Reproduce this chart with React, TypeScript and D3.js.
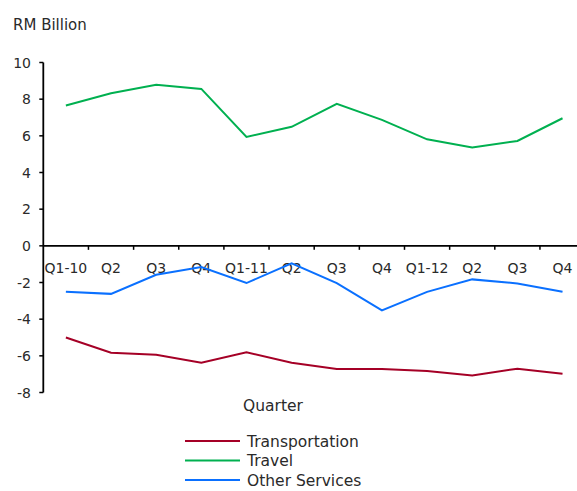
import React from "react";
import * as d3 from "d3";

const quarters = ["Q1-10", "Q2", "Q3", "Q4", "Q1-11", "Q2", "Q3", "Q4", "Q1-12", "Q2", "Q3", "Q4"];
const transportation = [-5.0, -5.83, -5.94, -6.38, -5.81, -6.38, -6.72, -6.72, -6.83, -7.07, -6.7, -6.98];
const travel = [7.65, 8.32, 8.79, 8.56, 5.94, 6.49, 7.75, 6.87, 5.81, 5.36, 5.72, 6.96];
const otherServices = [-2.51, -2.62, -1.58, -1.16, -2.03, -0.96, -2.03, -3.52, -2.51, -1.83, -2.05, -2.51];
const yTicks = [10, 8, 6, 4, 2, 0, -2, -4, -6, -8];

const seriesNames = ["Transportation", "Travel", "Other Services"];
const seriesColors = ["#A50026", "#00B050", "#0A70FF"];

const W = 577;
const H = 491;
const FONT = "'DejaVu Sans', sans-serif";
const TXT = "#2a2a2a";

export default function App() {
  const left = 43.3;
  const band = 45.15;
  const x = d3
    .scaleBand<number>()
    .domain(d3.range(quarters.length))
    .range([left, left + band * quarters.length])
    .paddingInner(0)
    .paddingOuter(0);
  const y = d3.scaleLinear().domain([-8, 10]).range([392.5, 62.5]);

  const line = d3
    .line<number>()
    .x((_, i) => (x(i) as number) + x.bandwidth() / 2)
    .y((d) => y(d));

  const allSeries = [transportation, travel, otherServices];

  return (
    <svg
      width={W}
      height={H}
      style={{ position: "absolute", left: 0, top: 0, background: "#fff" }}
      fontFamily={FONT}
    >
      <text x={13} y={30} fontSize={15} fill={TXT}>RM Billion</text>

      {/* y axis */}
      <line x1={left} x2={left} y1={y(10)} y2={y(-8)} stroke="#000" strokeWidth={1.8} />
      {yTicks.map((t) => (
        <g key={t}>
          <line x1={left - 4} x2={left} y1={y(t)} y2={y(t)} stroke="#000" strokeWidth={1.5} />
          <text x={31} y={y(t)} dy="0.36em" textAnchor="end" fontSize={14} fill={TXT}>
            {t < 0 ? "-" + Math.abs(t) : String(t)}
          </text>
        </g>
      ))}

      {/* x axis at 0 */}
      <line x1={left} x2={W} y1={y(0)} y2={y(0)} stroke="#000" strokeWidth={1.8} />
      {quarters.map((q, i) => (
        <g key={i}>
          {i > 0 && (
            <line
              x1={x(i) as number}
              x2={x(i) as number}
              y1={y(0)}
              y2={y(0) + 4}
              stroke="#000"
              strokeWidth={1.5}
            />
          )}
          <text
            x={(x(i) as number) + x.bandwidth() / 2}
            y={y(0) + 22}
            dy="0.36em"
            textAnchor="middle"
            fontSize={14}
            fill={TXT}
          >
            {q}
          </text>
        </g>
      ))}

      {allSeries.map((s, k) => (
        <path key={k} d={line(s) || ""} fill="none" stroke={seriesColors[k]} strokeWidth={2} />
      ))}

      <text x={243} y={405} dy="0.36em" fontSize={15.5} fill={TXT}>Quarter</text>

      {seriesNames.map((n, k) => (
        <g key={n}>
          <line x1={185} x2={240} y1={441 + k * 19.5} y2={441 + k * 19.5} stroke={seriesColors[k]} strokeWidth={2} />
          <text x={247} y={441 + k * 19.5} dy="0.36em" fontSize={15.5} fill={TXT}>{n}</text>
        </g>
      ))}
    </svg>
  );
}
